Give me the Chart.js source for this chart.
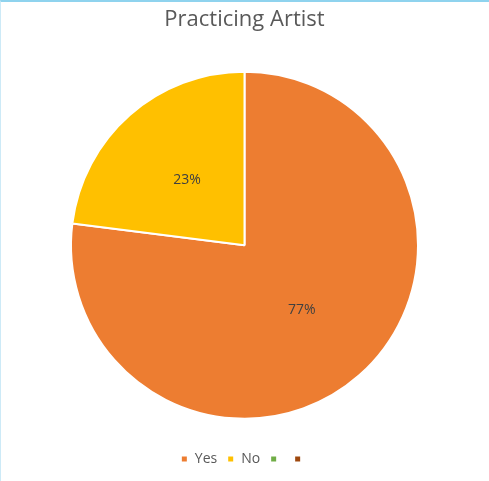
<!DOCTYPE html>
<html>
<head>
<meta charset="utf-8">
<script src="https://cdn.jsdelivr.net/npm/chart.js@4"></script>
<style>
  html, body { margin: 0; padding: 0; background: #fff; }
  #wrap {
    position: relative;
    width: 489px; height: 481px;
    box-sizing: border-box;
    border-top: 2px solid #8fd3ee;
    border-left: 1px solid #cdeaf7;
  }
</style>
</head>
<body>
<div id="wrap"><canvas id="pie"></canvas></div>
<script>
const labels = ['Yes', 'No', '', ''];
const values = [77, 23, 0, 0];
const colors = ['#ED7D31', '#FFC000', '#70AD47', '#9E480E'];

const pctLabels = {
  id: 'pctLabels',
  afterDatasetsDraw(chart) {
    const ctx = chart.ctx;
    const total = values.reduce((a, b) => a + b, 0);
    chart.getDatasetMeta(0).data.forEach((arc, i) => {
      if (!values[i]) return;
      const p = arc.tooltipPosition();
      ctx.save();
      ctx.fillStyle = '#404040';
      ctx.font = '14px "Open Sans"';
      ctx.textAlign = 'center';
      ctx.textBaseline = 'middle';
      ctx.fillText(Math.round(values[i] / total * 100) + '%', p.x, p.y);
      ctx.restore();
    });
  }
};

new Chart(document.getElementById('pie'), {
  type: 'pie',
  data: {
    labels: labels,
    datasets: [{
      data: values,
      backgroundColor: colors,
      borderColor: '#ffffff',
      borderWidth: 2
    }]
  },
  options: {
    responsive: true,
    maintainAspectRatio: false,
    animation: false,
    layout: { padding: { left: 69, right: 70, top: 0, bottom: 5 } },
    plugins: {
      title: {
        display: true,
        text: 'Practicing Artist',
        color: '#595959',
        font: { family: '"Open Sans"', size: 22, weight: 'normal' },
        padding: { top: 5, bottom: 15 }
      },
      legend: {
        position: 'bottom',
        labels: {
          color: '#595959',
          font: { family: '"Open Sans"', size: 14 },
          boxWidth: 7,
          boxHeight: 7,
          padding: 10
        }
      },
      tooltip: { enabled: false }
    }
  },
  plugins: [pctLabels]
});
</script>
</body>
</html>
